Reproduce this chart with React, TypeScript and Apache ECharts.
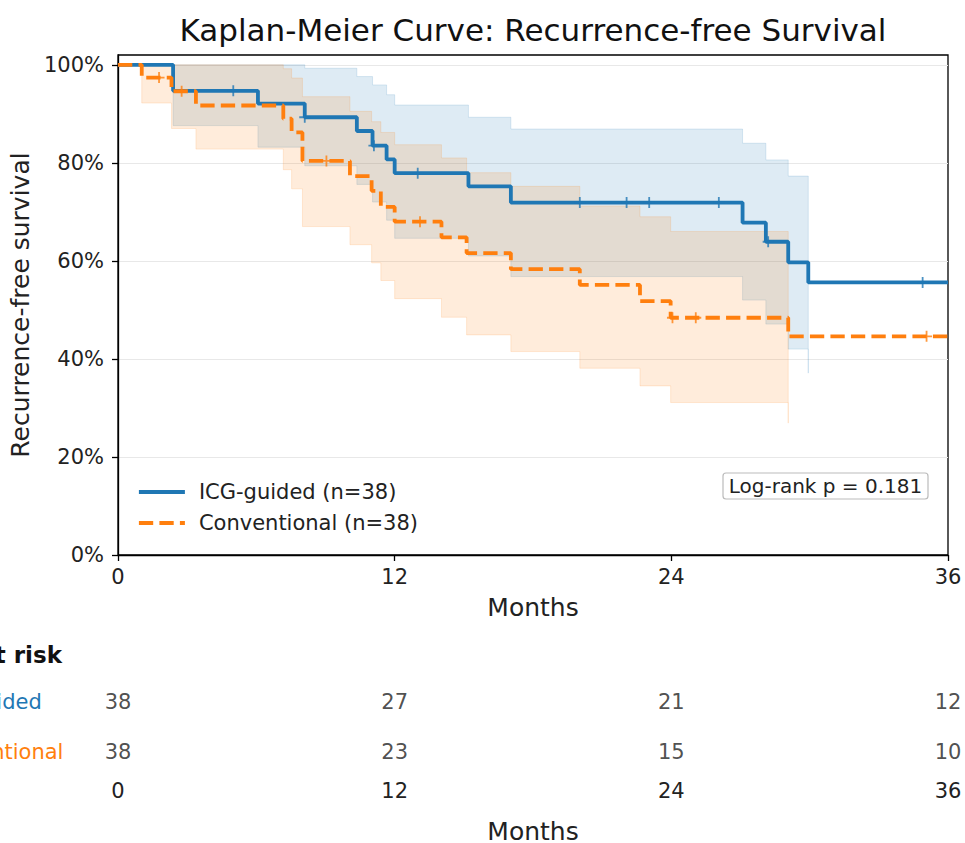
import React, { useEffect, useRef } from "react";
import * as echarts from "echarts";

const BLUE = "#1f77b4";
const ORANGE = "#ff7f0e";
const FONT = "DejaVu Sans";

// ICG-guided: step times (months), survival %, 95% CI lower / upper
const icgTimes = [0, 2.39, 6.07, 8.1, 10.36, 11.04, 11.65, 12.0, 15.2, 17.04, 27.09, 28.1, 29.07, 29.94];
const icgSurv = [100, 94.7, 92.1, 89.3, 86.5, 83.5, 80.7, 77.9, 75.2, 71.9, 67.8, 63.9, 59.7, 55.6];
const icgLower = [100, 87.6, 83.2, 79.4, 75.6, 72.0, 68.3, 64.6, 61.0, 56.8, 52.0, 47.1, 42.0, 37.1];
const icgUpper = [100, 100, 100, 99.3, 97.6, 95.9, 93.9, 91.8, 89.3, 86.9, 84.0, 80.6, 77.3, 73.5];
const icgCensor = [5.0, 8.1, 11.1, 13.0, 20.03, 22.06, 23.04, 26.06, 28.2, 34.9];

// Conventional
const convTimes = [0, 1.03, 2.32, 3.38, 7.17, 7.53, 8.0, 10.06, 11.0, 11.4, 12.0, 14.03, 15.12, 17.04, 20.03, 22.64, 23.97, 29.07];
const convSurv = [100, 97.4, 94.6, 91.7, 89.0, 86.2, 80.4, 77.3, 74.3, 71.0, 68.0, 64.8, 61.6, 58.3, 55.1, 51.8, 48.4, 44.6];
const convLower = [100, 92.2, 87.0, 82.8, 78.6, 74.7, 67.0, 63.3, 59.6, 56.0, 52.3, 48.5, 44.9, 41.5, 38.1, 34.5, 31.1, 26.9];
const convUpper = [100, 100, 100, 100, 99.2, 97.3, 93.5, 90.5, 88.4, 86.2, 83.7, 81.0, 78.0, 75.2, 71.2, 69.0, 66.0, 62.3];
const convCensor = [1.78, 2.76, 9.04, 13.1, 24.05, 25.06, 35.07];

const X_MAX = 36;
const xTicks = [0, 12, 24, 36];
const yTicks = [0, 20, 40, 60, 80, 100];

// Number at risk
const riskGroups = ["ICG-guided", "Conventional"];
const riskICG = [38, 27, 21, 12];
const riskConv = [38, 23, 15, 10];

const logRankText = "Log-rank p = 0.181";

function survAt(times: number[], surv: number[], t: number) {
  let v = surv[0];
  for (let i = 0; i < times.length; i++) if (times[i] <= t) v = surv[i];
  return v;
}

function bandRender(times: number[], lower: number[], upper: number[], color: string) {
  return (_params: any, api: any) => {
    const pts: number[][] = [];
    for (let i = 0; i < times.length; i++) {
      if (i > 0) pts.push(api.coord([times[i], upper[i - 1]]));
      pts.push(api.coord([times[i], upper[i]]));
    }
    for (let i = times.length - 1; i >= 0; i--) {
      pts.push(api.coord([times[i], lower[i]]));
      if (i > 0) pts.push(api.coord([times[i], lower[i - 1]]));
    }
    return {
      type: "polygon",
      shape: { points: pts },
      style: { fill: color, stroke: color, lineWidth: 1, opacity: 0.15 },
    };
  };
}

const plusSymbol = "path://M5,0L5,10M0,5L10,5";

export default function App() {
  const ref = useRef<HTMLDivElement>(null);
  useEffect(() => {
    document.body.style.margin = "0";
    if (!ref.current) return;
    const chart = echarts.init(ref.current, undefined, { renderer: "svg" });

    const icgLine = icgTimes.map((t, i) => [t, icgSurv[i]]).concat([[X_MAX, icgSurv[icgSurv.length - 1]]]);
    const convLine = convTimes.map((t, i) => [t, convSurv[i]]).concat([[X_MAX, convSurv[convSurv.length - 1]]]);

    const option: any = {
      animation: false,
      textStyle: { fontFamily: FONT },
      grid: [
        { left: 118, right: 17, top: 55, height: 500, show: true, borderColor: "#000", borderWidth: 1.3, backgroundColor: "transparent", outerBoundsMode: "none", containLabel: false },
        { left: 118, right: 17, top: 677, height: 100, outerBoundsMode: "none", containLabel: false },
      ],
      legend: {
        data: ["ICG-guided (n=38)", "Conventional (n=38)"],
        orient: "vertical",
        left: 137,
        top: 480,
        padding: 0,
        itemWidth: 46,
        itemHeight: 14,
        itemGap: 7,
        itemStyle: { color: "transparent", borderColor: "transparent", borderWidth: 0, opacity: 0 },
        lineStyle: { width: 3.8 },
        textStyle: { fontSize: 21, color: "#222", fontFamily: FONT, lineHeight: 24, padding: [0, 0, 0, 9] },
      },
      xAxis: [
        {
          type: "value", gridIndex: 0, min: 0, max: X_MAX, interval: 12,
          axisLine: { show: true, lineStyle: { color: "#000", width: 1.3 } },
          axisTick: { show: true, length: 6, lineStyle: { color: "#000", width: 1.3 } },
          axisLabel: { fontSize: 21, color: "#222", margin: 11, fontFamily: FONT },
          splitLine: { show: false },
          name: "Months", nameLocation: "middle", nameGap: 40,
          nameTextStyle: { fontSize: 25, color: "#222", fontFamily: FONT },
        },
        {
          type: "value", gridIndex: 1, min: 0, max: X_MAX, interval: 12,
          axisLine: { show: false }, axisTick: { show: false },
          axisLabel: { fontSize: 21, color: "#222", margin: 3, fontFamily: FONT, customValues: xTicks },
          splitLine: { show: false },
          name: "Months", nameLocation: "middle", nameGap: 43,
          nameTextStyle: { fontSize: 25, color: "#222", fontFamily: FONT, lineHeight: 22 },
        },
      ],
      yAxis: [
        {
          type: "value", gridIndex: 0, min: 0, max: 102, interval: 20,
          axisLine: { show: true, lineStyle: { color: "#000", width: 1.3 } },
          axisTick: { show: true, length: 6, lineStyle: { color: "#000", width: 1.3 }, customValues: yTicks },
          axisLabel: {
            fontSize: 21, color: "#222", margin: 14, fontFamily: FONT, customValues: yTicks,
            formatter: (v: number) => (v % 20 === 0 && v <= 100 ? v + "%" : ""),
          },
          splitLine: { show: true, lineStyle: { color: "#e8e8e8", width: 1 } },
          name: "Recurrence-free survival", nameLocation: "middle", nameGap: 80,
          nameTextStyle: { fontSize: 25, color: "#222", fontFamily: FONT },
        },
        {
          type: "category", gridIndex: 1, data: riskGroups.slice().reverse(),
          axisLine: { show: false }, axisTick: { show: false }, splitLine: { show: false },
          axisLabel: {
            fontSize: 21, align: "left", margin: 193, fontFamily: FONT,
            color: (v: string) => (v === "ICG-guided" ? BLUE : ORANGE),
          },
        },
      ],
      series: [
        { type: "custom", xAxisIndex: 0, yAxisIndex: 0, data: [[0, 0]], renderItem: bandRender(icgTimes, icgLower, icgUpper, BLUE), silent: true, z: 1 },
        { type: "custom", xAxisIndex: 0, yAxisIndex: 0, data: [[0, 0]], renderItem: bandRender(convTimes, convLower, convUpper, ORANGE), silent: true, z: 1 },
        {
          name: "ICG-guided (n=38)", type: "line", step: "end", xAxisIndex: 0, yAxisIndex: 0,
          data: icgLine, symbol: "none", color: BLUE,
          lineStyle: { color: BLUE, width: 3.8 }, z: 3,
        },
        {
          name: "Conventional (n=38)", type: "line", step: "end", xAxisIndex: 0, yAxisIndex: 0,
          data: convLine, symbol: "none", color: ORANGE,
          lineStyle: { color: ORANGE, width: 3.8, type: [14.3, 6.2] }, z: 4,
        },
        {
          type: "scatter", xAxisIndex: 0, yAxisIndex: 0, symbol: plusSymbol, symbolSize: 11,
          data: icgCensor.map((t) => [t, survAt(icgTimes, icgSurv, t)]),
          itemStyle: { color: "none", borderColor: BLUE, borderWidth: 1.8 }, z: 5, silent: true,
        },
        {
          type: "scatter", xAxisIndex: 0, yAxisIndex: 0, symbol: plusSymbol, symbolSize: 11,
          data: convCensor.map((t) => [t, survAt(convTimes, convSurv, t)]),
          itemStyle: { color: "none", borderColor: ORANGE, borderWidth: 1.8 }, z: 5, silent: true,
        },
        {
          type: "scatter", xAxisIndex: 1, yAxisIndex: 1, symbolSize: 0,
          data: [
            ...xTicks.map((t, i) => [t, "ICG-guided", riskICG[i]]),
            ...xTicks.map((t, i) => [t, "Conventional", riskConv[i]]),
          ],
          label: { show: true, position: "inside", formatter: (p: any) => String(p.value[2]), fontSize: 21, color: "#222", fontFamily: FONT },
          silent: true,
        },
      ],
      graphic: [
        {
          type: "text",
          style: { text: "Kaplan-Meier Curve: Recurrence-free Survival", x: 533, y: 30, align: "center", verticalAlign: "middle", fontSize: 31, fill: "#111", fontFamily: FONT },
        },
        {
          type: "text",
          style: { text: "Number at risk", x: 62, y: 655, align: "right", verticalAlign: "middle", fontSize: 23, fontWeight: "bold", fill: "#111", fontFamily: FONT },
        },
        {
          type: "rect", shape: { x: 723, y: 473, width: 205, height: 26, r: 3 },
          style: { fill: "#fff", stroke: "#bbb", lineWidth: 1.2 }, z: 10,
        },
        {
          type: "text", z: 11,
          style: { text: logRankText, x: 825.5, y: 486, align: "center", verticalAlign: "middle", fontSize: 20, fill: "#222", fontFamily: FONT },
        },
      ],
    };
    chart.setOption(option);
    return () => chart.dispose();
  }, []);
  return <div ref={ref} style={{ width: 965, height: 843 }} />;
}
